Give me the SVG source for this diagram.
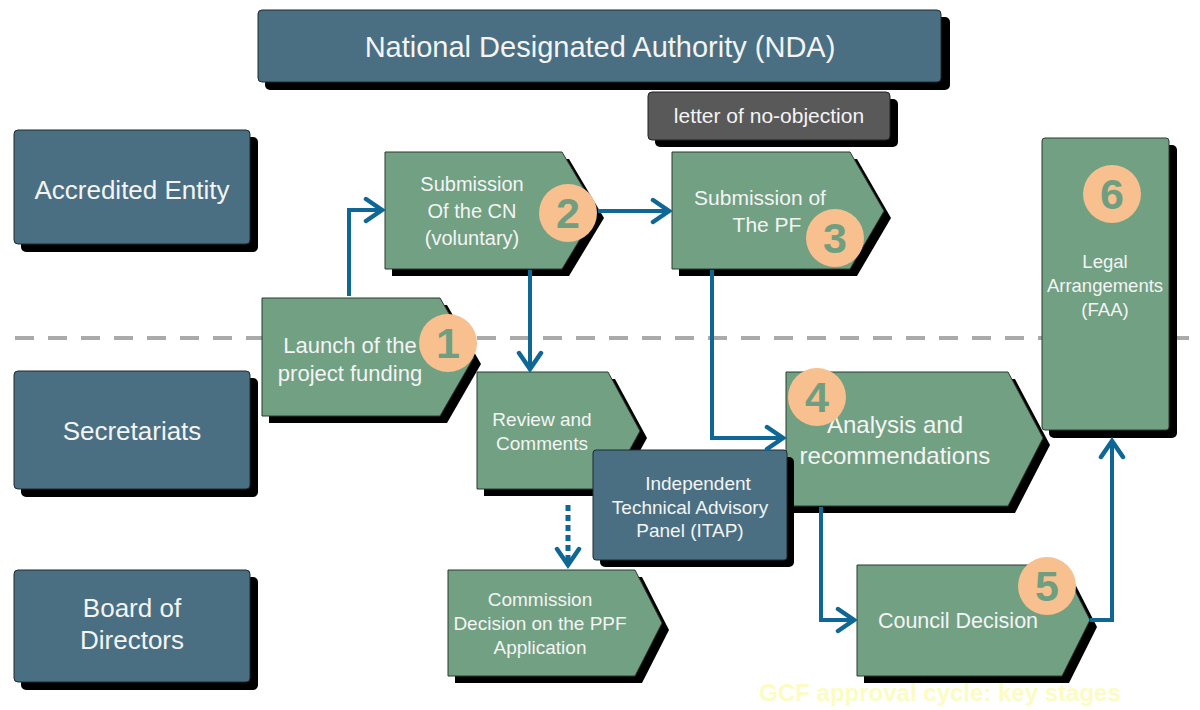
<svg xmlns="http://www.w3.org/2000/svg" width="1200" height="710" viewBox="0 0 1200 710">
  <defs>
    <style>
      text { font-family: "Liberation Sans", Arial, sans-serif; fill: #f4f4f4; text-anchor: middle; }
      .lane { fill: #4a6f82; stroke: #1e2a30; stroke-width: 1; }
      .stage { fill: #72a083; stroke: #2a3a30; stroke-width: 1; }
      .shadow { fill: #000; }
      .badge { fill: #f7c08e; }
      .num { font-size: 43px; font-weight: bold; fill: #6f9e80; }
      .flow { fill: none; stroke: #0f6795; stroke-width: 4; }
      .dotted { stroke-dasharray: 6 4; stroke-width: 5; }
      .divider { stroke: #aaaaaa; stroke-width: 4; stroke-dasharray: 19 14; }
    </style>
    <marker id="chevron" markerUnits="userSpaceOnUse" markerWidth="24" markerHeight="28" viewBox="-20 -14 24 28" refX="0" refY="0" orient="auto">
      <path d="M-16,-11 L0,0 L-16,11" fill="none" stroke="#0f6795" stroke-width="4.5" stroke-linecap="round"/>
    </marker>
  </defs>

  <rect width="1200" height="710" fill="#ffffff"/>

  <!-- lane separator -->
  <line class="divider" x1="15" y1="338" x2="1200" y2="338"/>

  <!-- authority banner -->
  <g id="nda">
    <rect class="shadow" x="265" y="17" width="685" height="73" rx="5"/>
    <rect class="lane" x="258" y="10" width="683" height="72" rx="4"/>
    <text x="600" y="57" style="font-size:29px">National Designated Authority (NDA)</text>
  </g>

  <g id="no-objection">
    <rect class="shadow" x="655" y="99" width="243" height="48" rx="5"/>
    <rect x="648" y="92" width="242" height="48" rx="4" fill="#595959" stroke="#222" stroke-width="1"/>
    <text x="769" y="123" style="font-size:21px">letter of no-objection</text>
  </g>

  <!-- swimlane labels -->
  <g id="lane-ae">
    <rect class="shadow" x="21" y="137" width="237" height="115" rx="5"/>
    <rect class="lane" x="14" y="130" width="236" height="114" rx="4"/>
    <text x="132" y="199" style="font-size:26px">Accredited Entity</text>
  </g>
  <g id="lane-sec">
    <rect class="shadow" x="21" y="378" width="237" height="119" rx="5"/>
    <rect class="lane" x="14" y="371" width="236" height="118" rx="4"/>
    <text x="132" y="440" style="font-size:26px">Secretariats</text>
  </g>
  <g id="lane-board">
    <rect class="shadow" x="21" y="577" width="237" height="113" rx="5"/>
    <rect class="lane" x="14" y="570" width="236" height="112" rx="4"/>
    <text x="132" y="617" style="font-size:26px">Board of</text>
    <text x="132" y="649" style="font-size:26px">Directors</text>
  </g>

  <!-- stage 1 -->
  <g id="launch">
    <polygon class="shadow" points="269,305 447,305 481,364 447,423 269,423"/>
    <polygon class="stage" points="262,298 440,298 474,357 440,416 262,416"/>
    <text x="350" y="353" style="font-size:22px">Launch of the</text>
    <text x="350" y="381" style="font-size:22px">project funding</text>
    <circle class="badge" cx="448" cy="343" r="29"/>
    <text class="num" x="448" y="358">1</text>
  </g>

  <!-- stage 2 -->
  <g id="submission-cn">
    <polygon class="shadow" points="392,159 569,159 604,218 569,276 392,276"/>
    <polygon class="stage" points="385,152 562,152 597,211 562,269 385,269"/>
    <text x="472" y="191" style="font-size:20px">Submission</text>
    <text x="472" y="218" style="font-size:20px">Of the CN</text>
    <text x="472" y="245" style="font-size:20px">(voluntary)</text>
    <circle class="badge" cx="568" cy="213" r="29"/>
    <text class="num" x="568" y="228">2</text>
  </g>

  <!-- stage 3 -->
  <g id="submission-pf">
    <polygon class="shadow" points="679,159 857,159 891,218 857,276 679,276"/>
    <polygon class="stage" points="672,152 850,152 884,211 850,269 672,269"/>
    <text x="760" y="205" style="font-size:21px">Submission of</text>
    <text x="767" y="232" style="font-size:21px">The PF</text>
    <circle class="badge" cx="835" cy="238" r="29"/>
    <text class="num" x="835" y="253">3</text>
  </g>

  <!-- review -->
  <g id="review">
    <polygon class="shadow" points="484,379 615,379 647,438 615,496 484,496"/>
    <polygon class="stage" points="477,372 608,372 640,431 608,489 477,489"/>
    <text x="542" y="426" style="font-size:19px">Review and</text>
    <text x="542" y="450" style="font-size:19px">Comments</text>
  </g>

  <!-- stage 4 -->
  <g id="analysis">
    <polygon class="shadow" points="793,379 1015,379 1050,445 1015,513 793,513"/>
    <polygon class="stage" points="786,372 1008,372 1043,438 1008,506 786,506"/>
    <text x="895" y="433" style="font-size:24px">Analysis and</text>
    <text x="895" y="464" style="font-size:24px">recommendations</text>
    <circle class="badge" cx="817" cy="397" r="29"/>
    <text class="num" x="817" y="412">4</text>
  </g>

  <!-- panel -->
  <g id="itap">
    <rect class="shadow" x="600" y="457" width="194" height="110" rx="5"/>
    <rect class="lane" x="593" y="450" width="194" height="110" rx="3"/>
    <text x="698" y="490" style="font-size:19px">Independent</text>
    <text x="690" y="514" style="font-size:19px">Technical Advisory</text>
    <text x="690" y="537" style="font-size:19px">Panel (ITAP)</text>
  </g>

  <!-- stage 6 -->
  <g id="legal">
    <rect class="shadow" x="1049" y="145" width="128" height="293" rx="5"/>
    <rect class="stage" x="1042" y="138" width="127" height="292" rx="3"/>
    <text x="1105" y="268" style="font-size:18.5px">Legal</text>
    <text x="1105" y="292" style="font-size:18.5px">Arrangements</text>
    <text x="1105" y="316" style="font-size:18.5px">(FAA)</text>
    <circle class="badge" cx="1112" cy="194" r="29"/>
    <text class="num" x="1112" y="209">6</text>
  </g>

  <!-- PPF decision -->
  <g id="commission">
    <polygon class="shadow" points="455,577 642,577 669,630 642,683 455,683"/>
    <polygon class="stage" points="448,570 635,570 662,623 635,676 448,676"/>
    <text x="540" y="606" style="font-size:19px">Commission</text>
    <text x="540" y="630" style="font-size:19px">Decision on the PPF</text>
    <text x="540" y="654" style="font-size:19px">Application</text>
  </g>

  <!-- stage 5 -->
  <g id="council">
    <polygon class="shadow" points="864,572 1069,572 1097,627 1069,683 864,683"/>
    <polygon class="stage" points="857,565 1062,565 1090,620 1062,676 857,676"/>
    <text x="958" y="628" style="font-size:21.5px">Council Decision</text>
    <circle class="badge" cx="1047" cy="586" r="29"/>
    <text class="num" x="1047" y="601">5</text>
  </g>

  <!-- flow connectors -->
  <g id="connectors">
    <path class="flow" d="M349,296 V210 H382" marker-end="url(#chevron)"/>
    <path class="flow" d="M598,211 H669" marker-end="url(#chevron)"/>
    <path class="flow" d="M530,270 V369" marker-end="url(#chevron)"/>
    <path class="flow" d="M712,270 V438 H783" marker-end="url(#chevron)"/>
    <path class="flow" d="M821,507 V620 H854" marker-end="url(#chevron)"/>
    <path class="flow" d="M1090,620 H1112 V441" marker-end="url(#chevron)"/>
    <path class="flow dotted" d="M568,505 V565" marker-end="url(#chevron)"/>
  </g>

  <text x="940" y="701" style="font-size:24px;font-weight:bold;fill:#fcfcc2">GCF approval cycle: key stages</text>
</svg>
